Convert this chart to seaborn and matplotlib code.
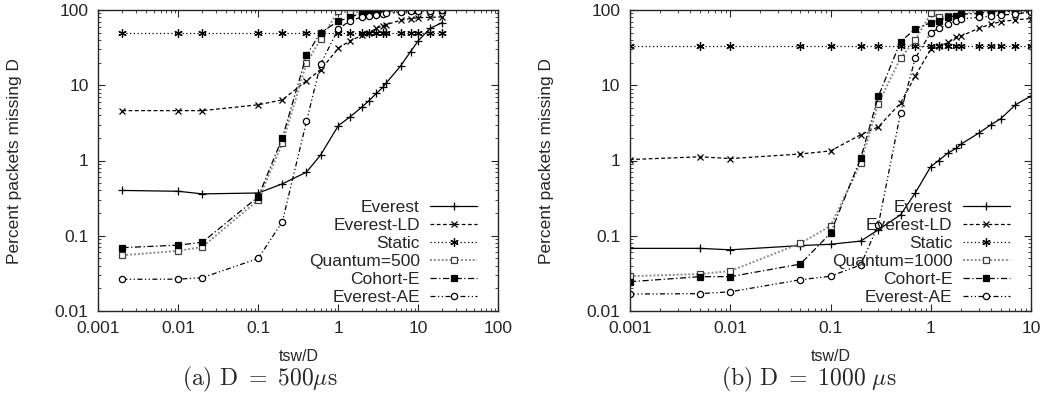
import matplotlib
matplotlib.use("Agg")
import matplotlib.pyplot as plt
import matplotlib.ticker as mticker
import pandas as pd
import seaborn as sns

# tsw/D sample points
x_500 = [0.002, 0.01, 0.02, 0.1, 0.2, 0.4, 0.6, 1, 1.4, 2, 2.4, 3, 3.6, 4, 6, 8, 10, 14, 20]
x_1000 = [0.001, 0.005, 0.01, 0.05, 0.1, 0.2, 0.3, 0.5, 0.7, 1, 1.2, 1.5, 1.8, 2, 3, 4, 5, 7, 10]

# (a) D = 500us
everest_500 = [0.40, 0.39, 0.36, 0.37, 0.49, 0.70, 1.18, 2.9, 3.8, 5.2, 6.2, 7.8, 9.4, 10.8, 18, 28, 39, 57, 68]
everest_ld_500 = [4.6, 4.6, 4.6, 5.5, 6.4, 11.5, 16, 31, 39, 46, 50, 57, 62, 64, 73, 77, 79, 80, 81]
static_500 = [50] * 19
quantum_500 = [0.055, 0.063, 0.071, 0.30, 1.7, 19.5, 41, 96, 92, 95, 97, 98, 98, 99, 99, 100, 100, 100, 100]
cohort_500 = [0.0695, 0.075, 0.082, 0.33, 2.0, 25, 50, 71, 80, 92, 95, 96, 97, 97, 98, 99, 99, 99, 99]
everest_ae_500 = [0.0264, 0.0265, 0.0277, 0.050, 0.154, 3.3, 19, 56, 72, 81, 84, 87, 89, 90, 94, 96, 97, 98, 99]

# (b) D = 1000us
everest_1000 = [0.068, 0.068, 0.065, 0.074, 0.077, 0.085, 0.12, 0.19, 0.37, 0.83, 1.0, 1.27, 1.45, 1.65, 2.3, 3.0, 3.6, 5.5, 7.2]
everest_ld_1000 = [1.03, 1.12, 1.06, 1.22, 1.34, 2.2, 2.8, 5.8, 13.3, 30, 33, 37, 44, 45, 57, 65, 70, 74, 77]
static_1000 = [33] * 19
quantum_1000 = [0.029, 0.031, 0.034, 0.079, 0.135, 0.92, 5.7, 23, 40, 90, 80, 82, 84, 86, 97, 97, 97, 98, 99]
cohort_1000 = [0.0245, 0.0286, 0.0286, 0.042, 0.108, 1.07, 7.1, 38, 56, 68, 72, 81, 84, 88, 90, 95, 95, 97, 98]
everest_ae_1000 = [0.0168, 0.017, 0.018, 0.026, 0.029, 0.041, 0.14, 4.3, 22.8, 50, 57, 65, 72, 76, 80, 83, 86, 88, 95]

fontSize = 12.5

styles = {
    "Everest": dict(color="black", ls="-", marker="+", ms=6, mfc="black", mec="black"),
    "Everest-LD": dict(color="black", ls=(0, (3, 2)), marker="x", ms=5, mfc="black", mec="black"),
    "Static": dict(color="black", ls=(0, (1, 2)), marker=(6, 2, 0), ms=6, mfc="black", mec="black"),
    "Quantum": dict(color="0.55", ls=(0, (1, 1)), marker="s", ms=5, mfc="white", mec="0.25", lw=1.4),
    "Cohort-E": dict(color="black", ls=(0, (5, 2, 1, 2)), marker="s", ms=5, mfc="black", mec="black"),
    "Everest-AE": dict(color="black", ls=(0, (4, 2, 1, 2, 1, 2)), marker="o", ms=4.5, mfc="white", mec="black"),
}


def drawPanel(ax, xs, series, xmax, xticks):
    for name, ys in series:
        key = "Quantum" if name.startswith("Quantum") else name
        st = dict(styles[key])
        lw = st.pop("lw", 0.9)
        df = pd.DataFrame({"x": xs, "y": ys})
        sns.lineplot(data=df, x="x", y="y", ax=ax, label=name, lw=lw, mew=0.9, **st)
    ax.set_xscale("log")
    ax.set_yscale("log")
    ax.set_xlim(xticks[0], xmax)
    ax.set_ylim(0.01, 100)
    ax.set_xticks(xticks)
    ax.set_yticks([0.01, 0.1, 1, 10, 100])
    fmt = mticker.FuncFormatter(lambda v, p: "%g" % v)
    ax.xaxis.set_major_formatter(fmt)
    ax.yaxis.set_major_formatter(fmt)
    ax.xaxis.set_minor_formatter(mticker.NullFormatter())
    ax.yaxis.set_minor_formatter(mticker.NullFormatter())
    ax.tick_params(which="both", direction="in", top=True, right=True, labelsize=fontSize, pad=7)
    ax.tick_params(which="major", length=5, width=0.8)
    ax.tick_params(which="minor", length=2.5, width=0.6)
    for s in ax.spines.values():
        s.set_linewidth(1.0)
    ax.set_xlabel("tsw/D", fontsize=11.5)
    ax.set_ylabel("Percent packets missing D", fontsize=fontSize)
    ax.xaxis.set_label_coords(0.5, -0.125)
    ax.yaxis.set_label_coords(-0.19, 0.5)
    ax.legend(loc="lower right", bbox_to_anchor=(0.947, 0.02), frameon=False,
              markerfirst=False, fontsize=fontSize, handlelength=2.7,
              handletextpad=0.6, labelspacing=0.16, borderpad=0, borderaxespad=0)


sns.set_style("ticks")
plt.rcParams["font.family"] = ["Liberation Sans", "DejaVu Sans"]
plt.rcParams["mathtext.fontset"] = "cm"

fig = plt.figure(figsize=(10.53, 4.0), dpi=100)
ax1 = fig.add_axes([98.3 / 1053, 89 / 400, 400 / 1053, 301 / 400])
ax2 = fig.add_axes([630 / 1053, 89 / 400, 401 / 1053, 301 / 400])

drawPanel(ax1, x_500, [("Everest", everest_500), ("Everest-LD", everest_ld_500),
                       ("Static", static_500), ("Quantum=500", quantum_500),
                       ("Cohort-E", cohort_500), ("Everest-AE", everest_ae_500)],
          100, [0.001, 0.01, 0.1, 1, 10, 100])
drawPanel(ax2, x_1000, [("Everest", everest_1000), ("Everest-LD", everest_ld_1000),
                        ("Static", static_1000), ("Quantum=1000", quantum_1000),
                        ("Cohort-E", cohort_1000), ("Everest-AE", everest_ae_1000)],
          10, [0.001, 0.01, 0.1, 1, 10])

fig.text(0.247, 0.052, r"$\mathrm{(a)\ D\ =\ 500}\mu\mathrm{s}$", ha="center", va="center", fontsize=17)
fig.text(0.768, 0.052, r"$\mathrm{(b)\ D\ =\ 1000\ }\mu\mathrm{s}$", ha="center", va="center", fontsize=17)

fig.savefig("out.png", dpi=100)
